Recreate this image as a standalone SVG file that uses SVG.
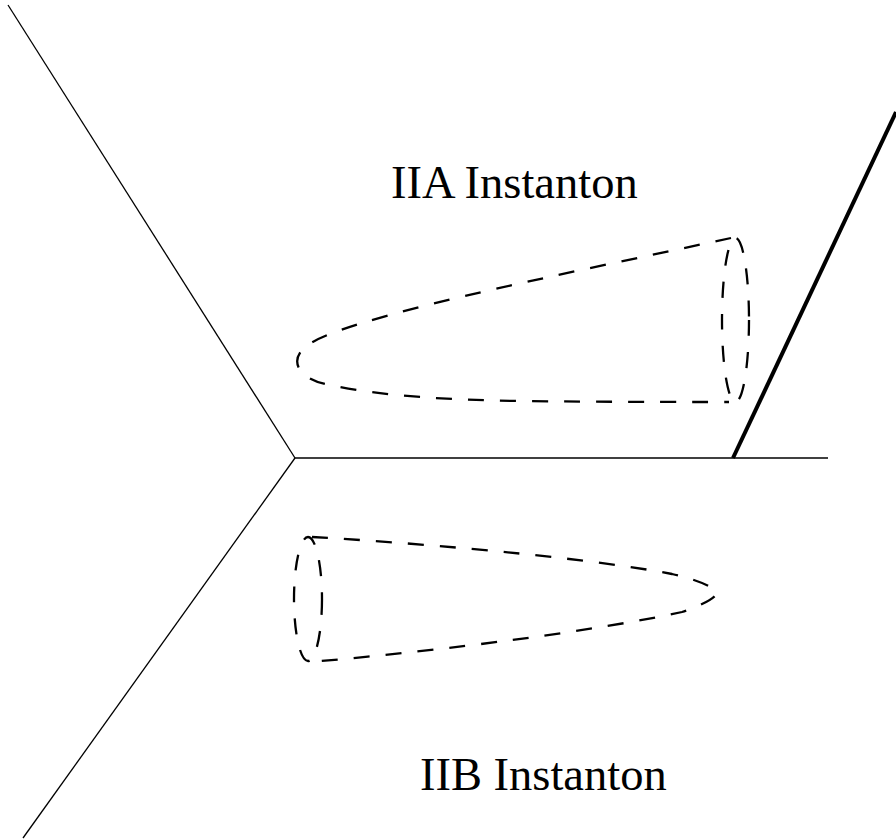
<svg xmlns="http://www.w3.org/2000/svg" width="896" height="839" viewBox="0 0 896 839">
<style>
.line{stroke:#000;stroke-width:1.3;fill:none}
.thick{stroke:#000;stroke-width:4;fill:none}
.dash{stroke:#000;stroke-width:2.3;fill:none;stroke-dasharray:16 16}
.lbl{font-family:"Liberation Serif","Times New Roman",serif;font-size:46.5px;fill:#000}
</style>
<rect width="896" height="839" fill="#fff"/>
<g id="connectors">
<line class="line" x1="8" y1="5" x2="295" y2="458"/>
<line class="line" x1="23" y1="838" x2="295" y2="458"/>
<line class="line" x1="295" y1="458" x2="828" y2="458"/>
<line class="thick" x1="733" y1="458" x2="896" y2="112"/>
</g>
<g id="iia-cone">
<path class="dash" d="M731,238 C560,275 340,318 305,347 C288,362 300,380 330,385 C380,396 450,400 520,401 C600,402 680,402 729,402"/>
<ellipse class="dash" cx="735.5" cy="320" rx="13.5" ry="82"/>
</g>
<g id="iib-cone">
<path class="dash" d="M312,537 C450,545 600,560 672,574 C704,581 717,590 717,593 C717,596 704,605 682,612 C600,630 450,650 310,662"/>
<ellipse class="dash" cx="308" cy="599" rx="14" ry="62"/>
</g>
<g id="label-iia">
<text class="lbl" x="391" y="198">IIA Instanton</text>
</g>
<g id="label-iib">
<text class="lbl" x="420" y="790">IIB Instanton</text>
</g>
</svg>
